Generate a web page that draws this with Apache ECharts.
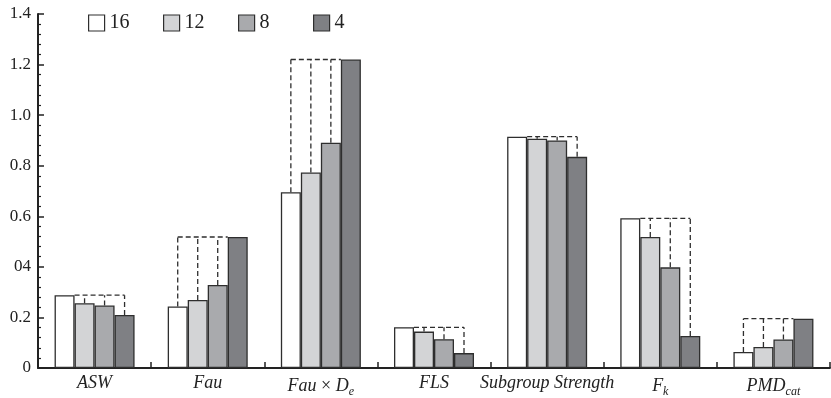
<!DOCTYPE html>
<html>
<head>
<meta charset="utf-8">
<script src="https://cdn.jsdelivr.net/npm/echarts@6/dist/echarts.min.js"></script>
<style>
html,body{margin:0;padding:0;background:#fff;}
#chart{width:831px;height:398px;}
</style>
</head>
<body>
<div id="chart"></div>
<script>
// ---- data ----
const categories = ['ASW', 'Fau', 'Fau × De', 'FLS', 'Subgroup Strength', 'Fk', 'PMDcat'];
const seriesNames = ['16', '12', '8', '4'];
const values16 = [0.288, 0.243, 0.695, 0.161, 0.915, 0.592, 0.063];
const values12 = [0.256, 0.269, 0.773, 0.144, 0.907, 0.518, 0.083];
const values8  = [0.247, 0.328, 0.891, 0.114, 0.900, 0.398, 0.113];
const values4  = [0.210, 0.518, 1.220, 0.059, 0.835, 0.127, 0.195];
const yTickValues = [0, 0.2, 0.4, 0.6, 0.8, 1.0, 1.2, 1.4];
const yTickLabels = ['0', '0.2', '04', '0.6', '0.8', '1.0', '1.2', '1.4'];

// ---- styling ----
const allValues = [values16, values12, values8, values4];
const colors = ['#ffffff', '#d3d4d6', '#a9aaad', '#7f8084'];
const edge = '#2e2e2e';
const BAR_W = 20;
const serif = '"Liberation Serif", "Times New Roman", serif';
const legendLefts = [88, 163, 238, 313];

const catRich = {
  i: { fontFamily: serif, fontStyle: 'italic', fontSize: 18, color: '#222' },
  n: { fontFamily: serif, fontStyle: 'normal', fontSize: 18, color: '#222' },
  s: { fontFamily: serif, fontStyle: 'italic', fontSize: 12, color: '#222', padding: [12, 0, 0, 0] }
};
function catLabel(v) {
  if (v === 'Fau × De') return '{i|Fau }{n|×}{i| D}{s|e}';
  if (v === 'Fk') return '{i|F}{s|k}';
  if (v === 'PMDcat') return '{i|PMD}{s|cat}';
  return '{i|' + v + '}';
}

const chart = echarts.init(document.getElementById('chart'), null, { renderer: 'canvas' });

const barSeries = seriesNames.map((name, k) => ({
  name: name,
  type: 'bar',
  data: allValues[k],
  barWidth: BAR_W,
  barGap: '0%',
  itemStyle: { color: colors[k], borderColor: edge, borderWidth: 1.3 },
  emphasis: { disabled: true },
  z: 2
}));

const dashSeries = {
  type: 'custom',
  name: 'dash',
  data: categories.map((c, i) => [i, 0]),
  clip: false,
  silent: true,
  z: 3,
  renderItem: function (params, api) {
    const i = api.value(0);
    const vals = allValues.map(a => a[i]);
    const maxV = Math.max.apply(null, vals);
    const m = vals.indexOf(maxV);
    const c = api.coord([i, 0]);
    const centers = vals.map((_, k) => c[0] + (k - 1.5) * BAR_W);
    const yMax = api.coord([i, maxV])[1];
    const style = { stroke: edge, lineWidth: 1.3, lineDash: [5, 3], fill: null };
    const children = [];
    const xs = [];
    vals.forEach((v, k) => {
      if (k === m) return;
      const y = api.coord([i, v])[1];
      children.push({ type: 'line', shape: { x1: centers[k], y1: y, x2: centers[k], y2: yMax }, style: style });
      xs.push(centers[k]);
    });
    const maxEdge = (m < 2) ? centers[m] + BAR_W / 2 : centers[m] - BAR_W / 2;
    xs.push(maxEdge);
    children.push({ type: 'line', shape: { x1: Math.min.apply(null, xs), y1: yMax, x2: Math.max.apply(null, xs), y2: yMax }, style: style });
    return { type: 'group', children: children };
  }
};

const legends = seriesNames.map((n, k) => ({
  data: [{ name: n, itemStyle: { color: colors[k], borderColor: edge, borderWidth: 1.2 } }],
  left: legendLefts[k],
  top: 13,
  padding: 0,
  icon: 'rect',
  itemWidth: 16,
  itemHeight: 16,
  itemTextGap: 4,
  textStyle: { fontFamily: serif, fontSize: 20, color: '#222' },
  selectedMode: false
}));

chart.setOption({
  animation: false,
  backgroundColor: '#fff',
  textStyle: { fontFamily: serif },
  grid: { left: 38, right: 1, top: 14, bottom: 28, containLabel: false },
  legend: legends,
  xAxis: {
    type: 'category',
    data: categories,
    axisLine: { lineStyle: { color: '#222', width: 1.8 } },
    axisTick: { show: true, inside: true, length: 6, alignWithLabel: false, lineStyle: { color: '#222', width: 1.5 } },
    axisLabel: { margin: 6, fontFamily: serif, formatter: catLabel, rich: catRich, interval: 0 }
  },
  yAxis: {
    type: 'value',
    min: 0,
    max: 1.4,
    interval: 0.2,
    axisLine: { show: true, lineStyle: { color: '#222', width: 2 } },
    axisTick: { show: true, inside: true, length: 6, lineStyle: { color: '#222', width: 1.5 } },
    minorTick: { show: true, splitNumber: 5, length: 3, lineStyle: { color: '#222', width: 1.2 } },
    splitLine: { show: false },
    axisLabel: {
      margin: 7,
      fontFamily: serif,
      fontSize: 17,
      color: '#222',
      formatter: function (v) {
        const idx = yTickValues.findIndex(t => Math.abs(t - v) < 1e-6);
        return idx >= 0 ? yTickLabels[idx] : '';
      }
    }
  },
  series: barSeries.concat([dashSeries])
});
</script>
</body>
</html>
